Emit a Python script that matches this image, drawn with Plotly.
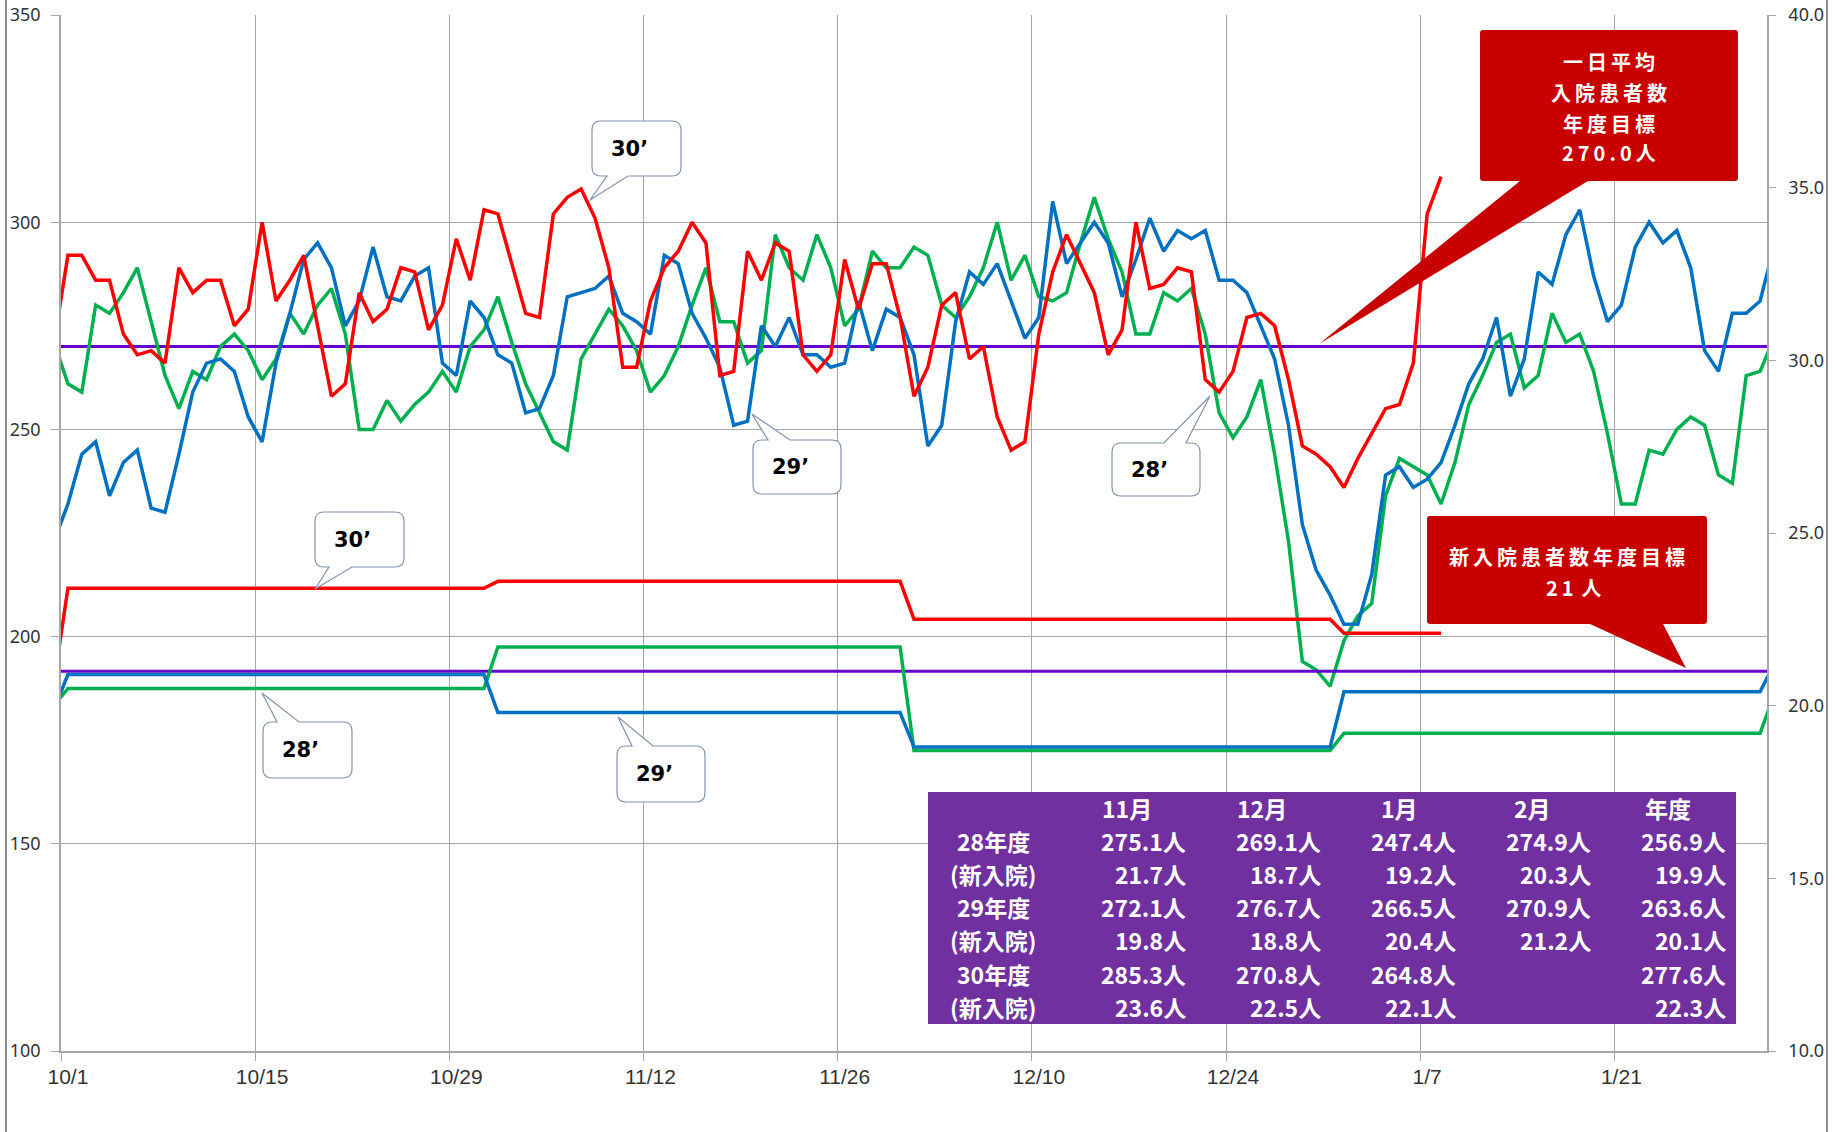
import plotly.graph_objects as go
import pandas as pd

# ---------------- data ----------------
# daily dates (values are plotted at the middle of each day), 9/30 .. 2/1
dates = pd.date_range("2018-09-30 12:00", periods=125, freq="D")

# daily inpatients (left axis)
inpatients_28 = [271,
    261, 259, 280, 278, 283, 289, 276, 263, 255, 264, 262, 270, 273, 269, 262, 267, 278, 273, 280, 284, 273, 250, 250, 257, 252, 256, 259, 264, 259, 270, 274,
    282, 271, 261, 254, 247, 245, 267, 273, 279, 275, 269, 259, 263, 270, 280, 289, 276, 276, 266, 269, 297, 289, 286, 297, 289, 275, 279, 293, 289, 289,
    294, 292, 280, 277, 282, 289, 300, 286, 292, 282, 281, 283, 295, 306, 296, 288, 273, 273, 283, 281, 284, 273, 254, 248, 253, 262, 244, 223, 194, 192, 188,
    199, 205, 208, 234, 243, 241, 239, 232, 242, 256, 263, 271, 273, 260, 263, 278, 271, 273, 264, 249, 232, 232, 245, 244, 250, 253, 251, 239, 237, 263, 264,
    272]
inpatients_29 = [223,
    232, 244, 247, 234, 242, 245, 231, 230, 244, 259, 266, 267, 264, 253, 247, 266, 278, 291, 295, 289, 275, 281, 294, 282, 281, 287, 289, 266, 263, 281, 277,
    268, 266, 254, 255, 263, 282, 283, 284, 287, 278, 276, 273, 292, 290, 278, 272, 265, 251, 252, 275, 270, 277, 268, 268, 265, 266, 281, 269, 279, 277,
    268, 246, 251, 276, 288, 285, 290, 281, 272, 277, 305, 290, 295, 300, 295, 282, 291, 301, 293, 298, 296, 298, 286, 286, 283, 275, 267, 251, 227, 216, 210,
    203, 203, 215, 239, 241, 236, 238, 242, 251, 261, 267, 277, 258, 267, 288, 285, 297, 303, 287, 276, 280, 294, 300, 295, 298, 289, 269, 264, 278, 278, 281,
    294]
inpatients_30 = [271,
    292, 292, 286, 286, 273, 268, 269, 266, 289, 283, 286, 286, 275, 279, 300, 281, 286, 292, 275, 258, 261, 283, 276, 279, 289, 288, 274, 280, 296, 286, 303,
    302, 290, 278, 277, 302, 306, 308, 301, 289, 265, 265, 281, 289, 293, 300, 295, 263, 264, 293, 286, 295, 293, 268, 264, 268, 291, 279, 290, 290, 277,
    258, 265, 280, 283, 267, 270, 253, 245, 247, 273, 288, 297, 290, 283, 268, 274, 300, 284, 285, 289, 288, 262, 259, 264, 277, 278, 275, 262, 246, 244, 241,
    236, 243, 249, 255, 256, 266, 302, 311]

# monthly average new admissions (right axis)
months = ["2018-09", "2018-10", "2018-11", "2018-12", "2019-01", "2019-02"]
new_28 = [20.0, 20.5, 21.7, 18.7, 19.2, 20.3]
new_29 = [19.9, 20.9, 19.8, 18.8, 20.4, 21.2]
new_30 = [20.7, 23.4, 23.6, 22.5, 22.1, None]

target_daily = 270.0
target_new = 21.0

tick_dates = ["2018-10-01", "2018-10-15", "2018-10-29", "2018-11-12", "2018-11-26",
              "2018-12-10", "2018-12-24", "2019-01-07", "2019-01-21"]
tick_labels = ["10/1", "10/15", "10/29", "11/12", "11/26", "12/10", "12/24", "1/7", "1/21"]

# summary table
table_header = ["11月", "12月", "1月", "2月", "年度"]
table_rows = ["28年度", "(新入院)", "29年度", "(新入院)", "30年度", "(新入院)"]
table_values = [
    ["275.1人", "269.1人", "247.4人", "274.9人", "256.9人"],
    ["21.7人", "18.7人", "19.2人", "20.3人", "19.9人"],
    ["272.1人", "276.7人", "266.5人", "270.9人", "263.6人"],
    ["19.8人", "18.8人", "20.4人", "21.2人", "20.1人"],
    ["285.3人", "270.8人", "264.8人", "", "277.6人"],
    ["23.6人", "22.5人", "22.1人", "", "22.3人"],
]

# ---------------- helpers ----------------
# plot area lands on screen x 61..1767, y 15..1051 (body margin removed by post_script)
W, H = 1835, 1132
PX0, PX1, PY0, PY1 = 61, 1767, 15, 1051
PW, PH = PX1 - PX0, PY1 - PY0
L, T = PX0, PY0
R, B = W - L - PW, H - T - PH


def px(x):
    return (x - PX0) / PW


def py(y):
    return (PY1 - y) / PH


def P(x, y):
    return f"{px(x):.5f},{py(y):.5f}"


def callout_path(x0, y0, x1, y1, r, side, b1, b2, tip):
    s = f"M {P(x0 + r, y0)} "
    if side == "top":
        s += f"L {P(b1, y0)} L {P(*tip)} L {P(b2, y0)} "
    s += f"L {P(x1 - r, y0)} Q {P(x1, y0)} {P(x1, y0 + r)} "
    s += f"L {P(x1, y1 - r)} Q {P(x1, y1)} {P(x1 - r, y1)} "
    if side == "bottom":
        s += f"L {P(b2, y1)} L {P(*tip)} L {P(b1, y1)} "
    s += f"L {P(x0 + r, y1)} Q {P(x0, y1)} {P(x0, y1 - r)} "
    s += f"L {P(x0, y0 + r)} Q {P(x0, y0)} {P(x0 + r, y0)} Z"
    return s


def monthly_to_daily(vals, ds):
    m = dict(zip(months, vals))
    return [m[d.strftime("%Y-%m")] for d in ds]


xs = [d.strftime("%Y-%m-%d %H:%M") for d in dates]
xs30 = xs[:len(inpatients_30)]

RED, BLUE, GREEN, PURPLE = "#FF0000", "#0070C0", "#00B050", "#6600CC"
LW = 3.5

fig = go.Figure()
x_full = ["2018-10-01", "2019-02-01"]
fig.add_trace(go.Scatter(x=x_full, y=[target_daily] * 2, mode="lines",
                         line=dict(color=PURPLE, width=3), yaxis="y"))
fig.add_trace(go.Scatter(x=x_full, y=[target_new] * 2, mode="lines",
                         line=dict(color=PURPLE, width=3), yaxis="y2"))

fig.add_trace(go.Scatter(x=xs, y=monthly_to_daily(new_28, dates), mode="lines",
                         line=dict(color=GREEN, width=LW), yaxis="y2"))
fig.add_trace(go.Scatter(x=xs, y=monthly_to_daily(new_29, dates), mode="lines",
                         line=dict(color=BLUE, width=LW), yaxis="y2"))
fig.add_trace(go.Scatter(x=xs30, y=monthly_to_daily(new_30, dates[:len(xs30)]), mode="lines",
                         line=dict(color=RED, width=LW), yaxis="y2"))

fig.add_trace(go.Scatter(x=xs, y=inpatients_28, mode="lines",
                         line=dict(color=GREEN, width=LW), yaxis="y"))
fig.add_trace(go.Scatter(x=xs, y=inpatients_29, mode="lines",
                         line=dict(color=BLUE, width=LW), yaxis="y"))
fig.add_trace(go.Scatter(x=xs30, y=inpatients_30, mode="lines",
                         line=dict(color=RED, width=LW), yaxis="y"))

GRID = "#A6A6A6"
label_pos = [(pd.Timestamp(t) + pd.Timedelta(hours=12)).strftime("%Y-%m-%d %H:%M") for t in tick_dates]

fig.update_layout(
    width=W, height=H,
    margin=dict(l=L, r=R, t=T, b=B, pad=0, autoexpand=False),
    paper_bgcolor="white", plot_bgcolor="white",
    showlegend=False,
    xaxis=dict(
        type="date", range=x_full, automargin=False,
        tickmode="array", tickvals=label_pos, ticktext=tick_labels,
        ticks="", showgrid=False, zeroline=False,
        showline=True, linecolor=GRID, linewidth=1.5,
        tickfont=dict(family="Liberation Sans Narrow, Liberation Sans", size=21, color="#333333"),
        ticklabelstandoff=6, ticklabeloverflow="allow",
        minor=dict(tickmode="array", tickvals=tick_dates, ticks="outside", ticklen=8,
                   tickcolor=GRID, tickwidth=1.3, showgrid=True, gridcolor=GRID, gridwidth=1.3),
    ),
    yaxis=dict(
        range=[100, 350], automargin=False,
        tickmode="array", tickvals=[100, 150, 200, 250, 300, 350],
        showgrid=True, gridcolor=GRID, gridwidth=1.3, zeroline=False,
        ticks="outside", ticklen=8, tickcolor=GRID, tickwidth=1.3,
        showline=True, linecolor=GRID, linewidth=1.5,
        tickfont=dict(family="Noto Sans, Open Sans", size=18, color="#333333"),
        ticklabelstandoff=7, ticklabeloverflow="allow",
    ),
    yaxis2=dict(
        range=[10, 40], overlaying="y", side="right", anchor="x", automargin=False,
        tickmode="array", tickvals=[10, 15, 20, 25, 30, 35, 40], tickformat=".1f",
        showgrid=False, zeroline=False,
        ticks="outside", ticklen=7, tickcolor=GRID, tickwidth=1.3,
        showline=True, linecolor=GRID, linewidth=1.5,
        tickfont=dict(family="Noto Sans, Open Sans", size=18, color="#333333"),
        ticklabelstandoff=9, ticklabeloverflow="allow",
    ),
)

shapes = []
annotations = []

# chart-area border lines (left / right)
for bx in (6, 1827):
    shapes.append(dict(type="line", xref="paper", yref="paper", x0=px(bx), x1=px(bx),
                       y0=py(0), y1=py(H), line=dict(color="#8C8C8C", width=2), layer="above"))

# white speech-bubble labels
bubbles = [
    # x0, y0, x1, y1, side, b1, b2, tip, text
    (592, 121, 681, 176, "bottom", 607, 628, (590, 200), "30’"),
    (753, 440, 841, 494, "top", 768, 790, (752, 414), "29’"),
    (1112, 443, 1200, 496, "top", 1164, 1186, (1210, 396), "28’"),
    (315, 512, 404, 567, "bottom", 329, 352, (315, 589), "30’"),
    (263, 722, 352, 778, "top", 277, 299, (262, 693), "28’"),
    (617, 746, 705, 802, "top", 632, 653, (618, 717), "29’"),
]
for x0, y0, x1, y1, side, b1, b2, tip, txt in bubbles:
    shapes.append(dict(type="path", xref="paper", yref="paper",
                       path=callout_path(x0, y0, x1, y1, 9, side, b1, b2, tip),
                       fillcolor="white", line=dict(color="#8093AE", width=1.2), layer="above"))
    annotations.append(dict(xref="paper", yref="paper", x=px((x0 + x1) / 2 - 7), y=py((y0 + y1) / 2),
                            text=txt, showarrow=False, xanchor="center", yanchor="middle",
                            font=dict(family="DejaVu Sans", size=21, color="black", weight="bold")))

# red target callouts
DARKRED = "#C80000"
shapes.append(dict(type="path", xref="paper", yref="paper",
                   path=callout_path(1480, 30, 1738, 181, 3, "bottom", 1520, 1588, (1319, 344)),
                   fillcolor=DARKRED, line=dict(width=0), layer="above"))
shapes.append(dict(type="path", xref="paper", yref="paper",
                   path=callout_path(1427, 516, 1707, 624, 3, "bottom", 1590, 1663, (1686, 668)),
                   fillcolor=DARKRED, line=dict(width=0), layer="above"))

SP = "\u2009"
red_font = dict(family="Noto Sans CJK JP", size=20, color="white", weight="bold")
for txt, yy in [(SP.join("一日平均"), 62), (SP.join("入院患者数"), 92),
                (SP.join("年度目標"), 123), (SP.join("270.") + SP + SP.join("0人"), 153)]:
    annotations.append(dict(xref="paper", yref="paper", x=px(1609), y=py(yy), text=txt,
                            showarrow=False, xanchor="center", yanchor="middle", font=red_font))
for txt, xx, yy in [(SP.join("新入院患者数年度目標"), 1567, 556), (SP.join("21") + SP + SP + "人", 1574, 587)]:
    annotations.append(dict(xref="paper", yref="paper", x=px(xx), y=py(yy), text=txt,
                            showarrow=False, xanchor="center", yanchor="middle", font=red_font))

# purple summary table
shapes.append(dict(type="rect", xref="paper", yref="paper", x0=px(928), x1=px(1736),
                   y0=py(792), y1=py(1024), fillcolor="#7030A0", line=dict(width=0), layer="above"))
tfont = dict(family="Noto Sans CJK JP", size=23, color="white", weight="bold")
header_cx = [1127, 1262, 1399, 1532, 1668]
value_rx = [1188, 1323, 1458, 1593, 1728]
row_y0, row_dy = 808, 33.1
for j, h in enumerate(table_header):
    annotations.append(dict(xref="paper", yref="paper", x=px(header_cx[j]), y=py(row_y0), text=h,
                            showarrow=False, xanchor="center", yanchor="middle", font=tfont))
for i, lab in enumerate(table_rows):
    yy = row_y0 + (i + 1) * row_dy
    annotations.append(dict(xref="paper", yref="paper", x=px(993), y=py(yy), text=lab,
                            showarrow=False, xanchor="center", yanchor="middle", font=tfont))
    for j, v in enumerate(table_values[i]):
        if v:
            annotations.append(dict(xref="paper", yref="paper", x=px(value_rx[j]), y=py(yy), text=v,
                                    showarrow=False, xanchor="right", yanchor="middle", font=tfont))

fig.update_layout(shapes=shapes, annotations=annotations)
fig.write_html("out.html", config={"displayModeBar": False},
               post_script="document.body.style.margin='0px';")
